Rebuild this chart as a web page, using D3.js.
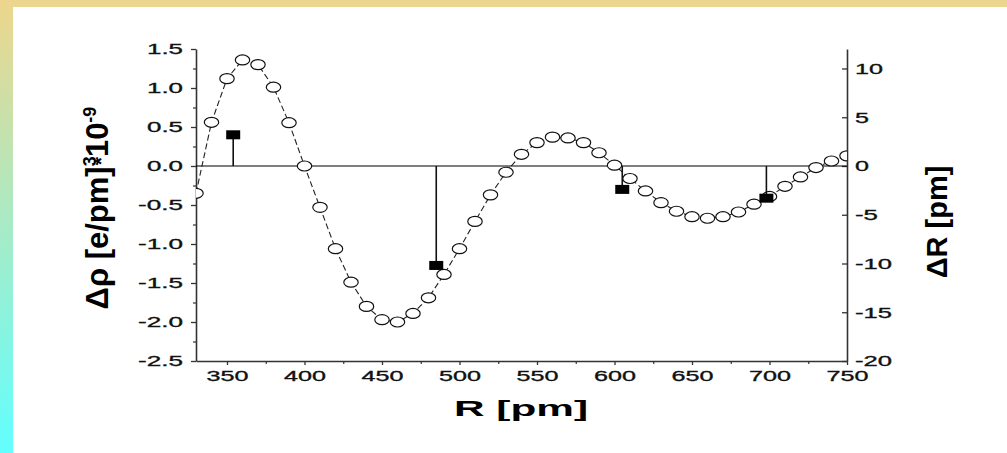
<!DOCTYPE html>
<html><head><meta charset="utf-8">
<script src="https://cdn.jsdelivr.net/npm/d3@7"></script>
<style>html,body{margin:0;padding:0;background:#fff;overflow:hidden}svg{display:block}</style>
</head><body>
<svg id="c" width="1007" height="453"></svg>
<script>
// ---- data ----
const rValues = [330,340,350,360,370,380,390,400,410,420,430,440,450,460,470,480,490,500,510,520,530,540,550,560,570,580,590,600,610,620,630,640,650,660,670,680,690,700,710,720,730,740,750];
const rhoValues = [-0.35,0.56,1.12,1.36,1.30,1.01,0.555,0.0,-0.53,-1.06,-1.49,-1.80,-1.97,-2.00,-1.89,-1.69,-1.39,-1.06,-0.71,-0.37,-0.08,0.15,0.30,0.37,0.36,0.30,0.17,0.01,-0.16,-0.32,-0.47,-0.58,-0.65,-0.67,-0.65,-0.59,-0.49,-0.39,-0.26,-0.14,-0.02,0.064,0.13];
const shellR = [354, 485, 605, 698];
const shellDeltaR = [3.2, -10.2, -2.4, -3.3];
const xTicks = [350,400,450,500,550,600,650,700,750];
const xTickLabels = ["350","400","450","500","550","600","650","700","750"];
const yLeftTicks = [1.5,1.0,0.5,0.0,-0.5,-1.0,-1.5,-2.0,-2.5];
const yLeftTickLabels = ["1.5","1.0","0.5","0.0","-0.5","-1.0","-1.5","-2.0","-2.5"];
const yRightTicks = [10,5,0,-5,-10,-15,-20];
const yRightTickLabels = ["10","5","0","-5","-10","-15","-20"];

const svg = d3.select("#c");
const W = 1007, H = 453;

// background frame
const defs = svg.append("defs");
const grad = defs.append("linearGradient").attr("id","lg").attr("x1",0).attr("y1",0).attr("x2",0).attr("y2",1);
grad.append("stop").attr("offset","0").attr("stop-color","#edd68c");
grad.append("stop").attr("offset","1").attr("stop-color","#62ffff");
svg.append("rect").attr("x",0).attr("y",0).attr("width",W).attr("height",H).attr("fill","#fff");
svg.append("rect").attr("x",0).attr("y",0).attr("width",13).attr("height",H).attr("fill","url(#lg)");
svg.append("rect").attr("x",0).attr("y",0).attr("width",W).attr("height",7).attr("fill","#ecd68f");

const x = d3.scaleLinear().domain([330,750]).range([196,847]);
const yL = d3.scaleLinear().domain([-2.5,1.5]).range([361,49]);
const yR = d3.scaleLinear().domain([-20,12]).range([361,49]);

defs.append("clipPath").attr("id","clip").append("rect")
  .attr("x",196).attr("y",30).attr("width",651).attr("height",331);

const FONT = "'Liberation Sans', Arial, sans-serif";
const cw = ch => ch === "." ? 8 : (ch === "-" ? 9 : 14);
const tlen = s => s.split("").reduce((a,c)=>a+cw(c),0);

function styleAxis(g){
  g.select(".domain").attr("stroke","#333").attr("stroke-width",1.6);
  g.selectAll(".tick line").attr("stroke","#333").attr("stroke-width",1.3);
  g.selectAll("text").attr("font-family",FONT).attr("font-size",15.5).attr("fill","#111")
    .attr("font-weight","normal").attr("stroke","#111").attr("stroke-width",0.35);
}

// minor ticks
svg.append("g").attr("transform","translate(196,0)")
  .call(d3.axisLeft(yL).tickValues(d3.range(-2.25,1.5,0.5)).tickSize(3).tickFormat(""))
  .call(g=>{g.select(".domain").remove(); g.selectAll("line").attr("stroke","#333").attr("stroke-width",1.2);});
svg.append("g").attr("transform","translate(0,361)")
  .call(d3.axisBottom(x).tickValues([375,425,475,525,575,625,675,725]).tickSize(3).tickFormat(""))
  .call(g=>{g.select(".domain").remove(); g.selectAll("line").attr("stroke","#333").attr("stroke-width",1.2);});

// left axis
const gl = svg.append("g").attr("transform","translate(196,0)")
  .call(d3.axisLeft(yL).tickValues(yLeftTicks).tickSize(5).tickSizeOuter(0).tickPadding(8)
        .tickFormat((d,i)=>yLeftTickLabels[i]));
styleAxis(gl);
gl.selectAll("text").attr("textLength",function(){return tlen(this.textContent);}).attr("lengthAdjust","spacingAndGlyphs");

// bottom axis
const gb = svg.append("g").attr("transform","translate(0,361)")
  .call(d3.axisBottom(x).tickValues(xTicks).tickSize(4).tickSizeOuter(0).tickPadding(5)
        .tickFormat((d,i)=>xTickLabels[i]));
styleAxis(gb);
gb.selectAll("text").attr("textLength",function(){return tlen(this.textContent);}).attr("lengthAdjust","spacingAndGlyphs");

// right axis
const gr = svg.append("g").attr("transform","translate(847,0)")
  .call(d3.axisRight(yR).tickValues(yRightTicks).tickSize(-5).tickSizeOuter(0).tickPadding(8)
        .tickFormat((d,i)=>yRightTickLabels[i]));
styleAxis(gr);
gr.selectAll("text").attr("textLength",function(){return tlen(this.textContent);}).attr("lengthAdjust","spacingAndGlyphs");

// zero line
svg.append("line").attr("x1",x(330)).attr("x2",x(750)).attr("y1",yL(0)).attr("y2",yL(0))
  .attr("stroke","#000").attr("stroke-width",1.2);

// rho curve
const pts = rValues.map((r,i)=>[r,rhoValues[i]]);
const plot = svg.append("g").attr("clip-path","url(#clip)");
plot.append("path").datum(pts)
  .attr("d", d3.line().x(d=>x(d[0])).y(d=>yL(d[1])))
  .attr("fill","none").attr("stroke","#222").attr("stroke-width",1.1).attr("stroke-dasharray","6,3");
plot.selectAll("ellipse").data(pts).join("ellipse")
  .attr("cx",d=>x(d[0])).attr("cy",d=>yL(d[1])).attr("rx",7.2).attr("ry",5)
  .attr("fill","#fff").attr("stroke","#111").attr("stroke-width",1.2);

// Delta R stems
const sh = shellR.map((r,i)=>[r,shellDeltaR[i]]);
svg.selectAll(".stem").data(sh).join("line").attr("class","stem")
  .attr("x1",d=>x(d[0])).attr("x2",d=>x(d[0])).attr("y1",yR(0)).attr("y2",d=>yR(d[1]))
  .attr("stroke","#111").attr("stroke-width",1.6);
svg.selectAll(".sq").data(sh).join("rect").attr("class","sq")
  .attr("x",d=>x(d[0])-7).attr("y",d=>yR(d[1])-4.5).attr("width",14).attr("height",9)
  .attr("fill","#000");

// axis titles
svg.append("text").attr("x",521).attr("y",416).attr("text-anchor","middle")
  .attr("font-family",FONT).attr("font-weight","bold").attr("font-size",22)
  .attr("textLength",134).attr("lengthAdjust","spacingAndGlyphs").text("R [pm]");

const lt = svg.append("text").attr("transform","translate(108,208) rotate(-90)")
  .attr("text-anchor","middle").attr("font-family",FONT).attr("font-weight","bold").attr("font-size",31);
lt.append("tspan").text("Δρ [e/pm]");
lt.append("tspan").attr("dy",-12).attr("font-size",18).text("3");
lt.append("tspan").attr("dx",-9).attr("dy",12).attr("font-size",21).text("*");
lt.append("tspan").text("10");
lt.append("tspan").attr("dy",-12).attr("font-size",18).text("-9");

svg.append("text").attr("transform","translate(947,222) rotate(-90)")
  .attr("text-anchor","middle").attr("font-family",FONT).attr("font-weight","bold").attr("font-size",29)
  .text("ΔR [pm]");
</script>
</body></html>
